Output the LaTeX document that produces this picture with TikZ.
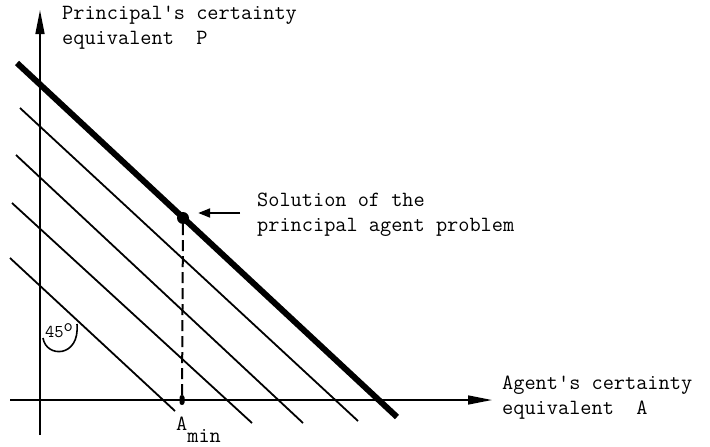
\documentclass[tikz,border=0pt]{standalone}
\usetikzlibrary{arrows.meta}

\begin{document}
\begin{tikzpicture}[
  x=1pt,y=-1pt,
  axis/.style={line width=1.6pt,-{Triangle[length=24pt,width=9pt]}},
  iso/.style={line width=1.8pt},
  front/.style={line width=6pt},
  lbl/.style={font=\ttfamily\fontsize{21.7}{24.5}\selectfont,inner sep=0pt,align=left},
  arr/.style={-{Triangle[length=12pt,width=9pt]},line width=2pt}
]
\useasboundingbox (0,0) rectangle (710,447);
\coordinate (pbot) at (40,435);
\coordinate (ptop) at (40,10);
\coordinate (aleft) at (10,400);
\coordinate (aright) at (492,400);
\draw[axis] (pbot) -- (ptop);
\draw[axis] (aleft) -- (aright);
\coordinate (l1a) at (20,108); \coordinate (l1b) at (358,421);
\coordinate (l2a) at (16,155); \coordinate (l2b) at (303,423);
\coordinate (l3a) at (12,203); \coordinate (l3b) at (252,423);
\coordinate (l4a) at (10,258); \coordinate (l4b) at (175,411);
\draw[iso] (l1a) -- (l1b);
\draw[iso] (l2a) -- (l2b);
\draw[iso] (l3a) -- (l3b);
\draw[iso] (l4a) -- (l4b);
\coordinate (fa) at (17,63); \coordinate (fb) at (397,417);
\draw[front] (fa) -- (fb);
\node[circle,fill,inner sep=0pt,minimum size=12pt] (sol) at (183,218) {};
\node[fill,rounded corners=2.5pt,inner sep=0pt,minimum width=5pt,minimum height=10pt] (amin) at (182,400) {};
\draw[line width=2pt,dash pattern=on 11pt off 5pt] (sol) -- (amin);
\node[lbl,anchor=north west] (plbl) at (62,6) {Principal's certainty\\equivalent~~P};
\node[lbl,anchor=north west] (albl) at (502,376) {Agent's certainty\\equivalent~~A};
\node[lbl,anchor=north west] (slbl) at (257,193) {Solution of the\\principal agent problem};
\node[lbl,anchor=base west] (amlbl) at (176,430) {A\raisebox{-12pt}{min}};
\coordinate (tail) at (240,213);
\draw[arr,shorten >=9pt] (tail) -- (sol.east |- tail);
\node[font=\ttfamily\fontsize{18}{18}\selectfont,inner sep=0pt,anchor=base west] (ang) at (45,337) {45\raisebox{6pt}{o}};
\draw[line width=1.6pt] (43,338) .. controls (46,358) and (80,358) .. (77,324);
\end{tikzpicture}
\end{document}
